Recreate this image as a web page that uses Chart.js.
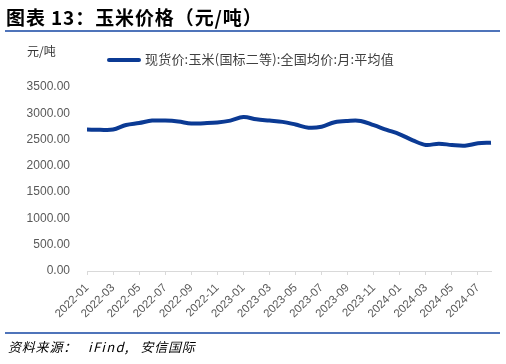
<!DOCTYPE html>
<html><head><meta charset="utf-8">
<script src="https://cdn.jsdelivr.net/npm/chart.js@4/dist/chart.umd.min.js"></script>
<style>
html,body{margin:0;padding:0;background:#fff;width:506px;height:364px;overflow:hidden;position:relative;font-family:"Noto Sans CJK SC",sans-serif;}
#title{position:absolute;left:6px;top:3px;font-size:19px;font-weight:bold;color:#000;white-space:nowrap;letter-spacing:0.9px;}
#rule1{position:absolute;left:5px;top:30px;width:495px;height:2px;background:#4f74ba;}
#unit{position:absolute;left:27px;top:42px;font-size:12px;color:#333;}
#legend{position:absolute;left:107px;top:49px;font-size:13px;color:#404040;white-space:nowrap;letter-spacing:0.2px;}
#legend span.sw{display:inline-block;width:34px;height:4px;background:#0b3a94;vertical-align:middle;margin-right:4px;border-radius:2px;}
#rule2{position:absolute;left:5px;top:332px;width:495px;height:2px;background:#4f74ba;}
#src{position:absolute;left:8px;top:337px;font-size:13px;font-style:italic;color:#000;white-space:nowrap;letter-spacing:0.8px;word-spacing:7px;}
#src .en{margin-left:11px;letter-spacing:1.3px;}
#c{position:absolute;left:0;top:0;}
</style></head>
<body>
<canvas id="c" width="506" height="364"></canvas>
<div id="title">图表 13：玉米价格（元/吨）</div>
<div id="rule1"></div>
<div id="unit">元/吨</div>
<div id="legend"><span class="sw"></span>现货价:玉米(国标二等):全国均价:月:平均值</div>
<div id="rule2"></div>
<div id="src">资料来源：<span class="en">iFind,</span> 安信国际</div>
<script>
const months = ["2022-01","2022-02","2022-03","2022-04","2022-05","2022-06","2022-07","2022-08","2022-09","2022-10","2022-11","2022-12",
"2023-01","2023-02","2023-03","2023-04","2023-05","2023-06","2023-07","2023-08","2023-09","2023-10","2023-11","2023-12",
"2024-01","2024-02","2024-03","2024-04","2024-05","2024-06","2024-07","2024-08"];
const cornPrice = [2690,2685,2690,2777,2815,2861,2861,2843,2805,2811,2824,2861,
2929,2885,2861,2837,2786,2727,2745,2830,2855,2855,2773,2685,
2600,2486,2397,2422,2397,2384,2428,2441];
const seriesName = "现货价:玉米(国标二等):全国均价:月:平均值";
const yTicks = [0,500,1000,1500,2000,2500,3000,3500];

new Chart(document.getElementById('c'), {
  type: 'line',
  data: { labels: months, datasets: [{ label: seriesName, data: cornPrice, borderColor: '#0b3a94', borderWidth: 4, pointRadius: 0, tension: 0.35, fill: false }] },
  options: {
    responsive: false, animation: false,
    layout: { padding: { top: 87, left: 0, right: 15, bottom: 36 } },
    plugins: { legend: { display: false }, tooltip: { enabled: false } },
    scales: {
      x: {
        offset: false,
        grid: { display: true, drawOnChartArea: false, drawTicks: true, tickLength: 4, color: '#d9d9d9' },
        border: { display: true, color: '#d9d9d9', width: 1 },
        ticks: { autoSkip: false, minRotation: 45, maxRotation: 45, color: '#595959', font: { family: 'Liberation Sans', size: 11.5 }, padding: 6,
          callback: function(v, i) { return i % 2 === 0 ? months[i] : null; } },
        afterFit: s => { s.height = 57; }
      },
      y: {
        min: 0, max: 3500,
        afterBuildTicks: s => { s.ticks = yTicks.map(v => ({ value: v })); },
        grid: { display: false },
        border: { display: false },
        ticks: { color: '#595959', font: { family: 'Liberation Sans', size: 12 }, padding: 9, callback: v => Number(v).toFixed(2) },
        afterFit: s => { s.width = 87; }
      }
    }
  }
});
</script>
</body></html>
